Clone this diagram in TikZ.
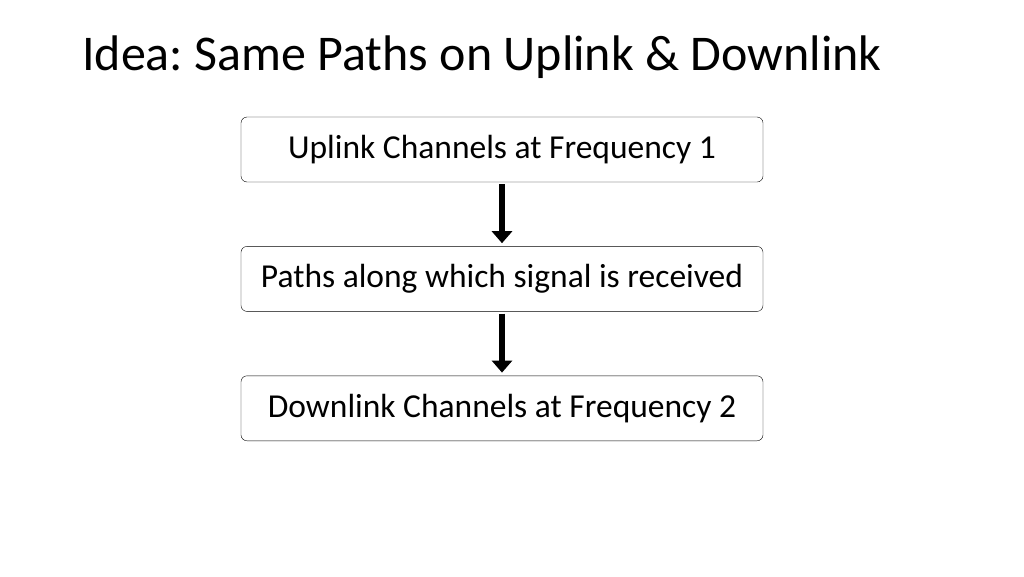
\documentclass[tikz,border=0pt]{standalone}
\usepackage{fontspec}
\setmainfont{Carlito}
\usetikzlibrary{positioning,arrows.meta}
\tikzset{
  stepbox/.style={draw, rounded corners=6pt, minimum width=522pt, minimum height=65pt, font=\fontsize{33.5}{38}\selectfont},
  flow/.style={line width=6pt, -{Triangle[length=12pt,width=20pt]}}
}
\begin{document}
\frenchspacing
\begin{tikzpicture}[x=1pt,y=1pt]
\useasboundingbox (0,0) rectangle (1024,-576); % fix page size
\node[anchor=base west, inner sep=0pt, font=\fontsize{50}{58}\selectfont] (title) at (82,-70) {Idea: Same Paths on Uplink \& Downlink};
\node[stepbox] (uplink) at (502,-149.5) {Uplink Channels at Frequency 1};
\node[stepbox, below=64pt of uplink] (paths) {Paths along which signal is received};
\node[stepbox, below=64pt of paths] (downlink) {Downlink Channels at Frequency 2};
\draw[flow] ([yshift=-2pt]uplink.south) -- ([yshift=3pt]paths.north);
\draw[flow] ([yshift=-2pt]paths.south) -- ([yshift=3pt]downlink.north);
\end{tikzpicture}
\end{document}
